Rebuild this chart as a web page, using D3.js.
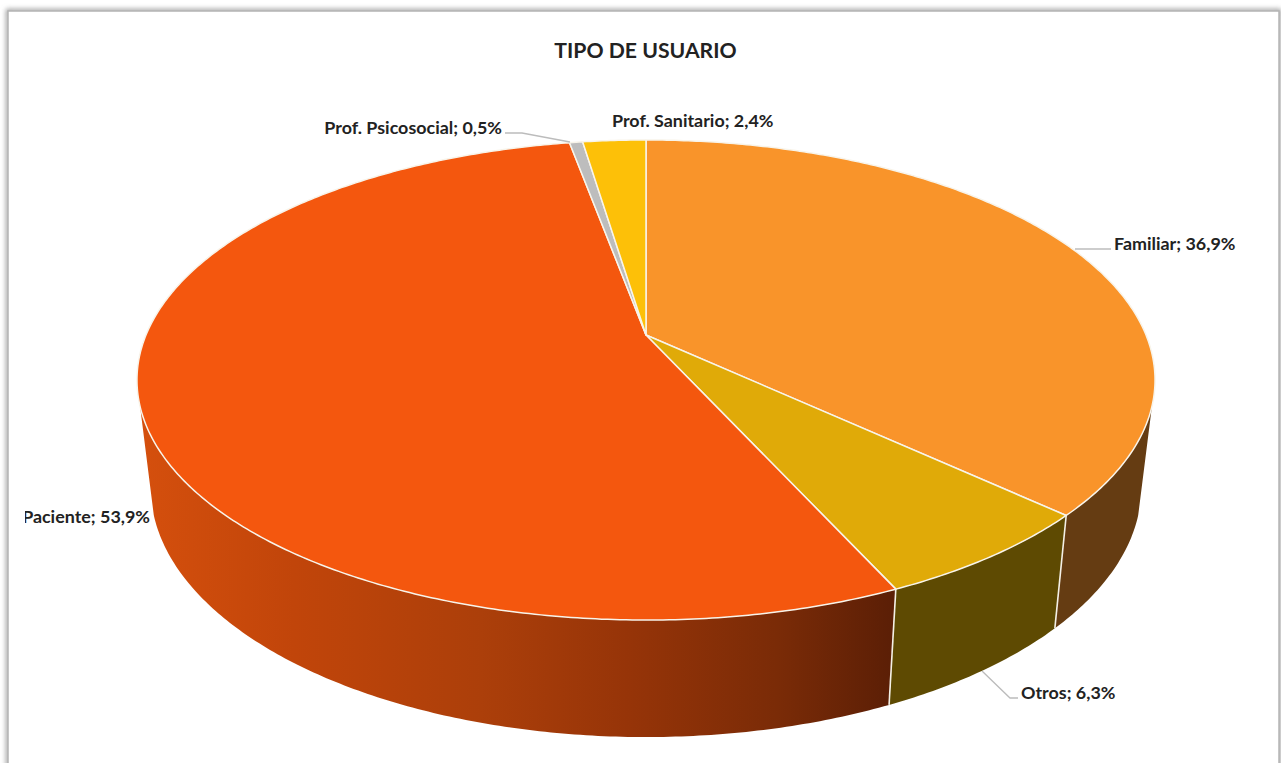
<!DOCTYPE html>
<html><head><meta charset="utf-8">
<script src="https://cdn.jsdelivr.net/npm/d3@7/dist/d3.min.js"></script>
<style>html,body{margin:0;padding:0;background:#fff;overflow:hidden}svg{display:block}text{font-family:Lato,"Noto Sans",sans-serif;font-weight:700;fill:#222}</style>
</head><body><svg id="c" width="1281" height="763"></svg>
<script>
const title = "TIPO DE USUARIO";
const categories = ["Familiar","Otros","Paciente","Prof. Psicosocial","Prof. Sanitario"];
const values = [36.9,6.3,53.9,0.5,2.4];
const valueLabels = ["36,9%","6,3%","53,9%","0,5%","2,4%"];
const topColors = ["#f9942a","#e0aa08","#f4570e","#bdbdbd","#fdc008"];
const sideColors = ["#653c12","#5e4a02","url(#pacSide)","#777","#997300"];

const svg = d3.select("#c");
const defs = svg.append("defs");
const blur = defs.append("filter").attr("id","sh").attr("x","-5%").attr("y","-5%").attr("width","110%").attr("height","110%");
blur.append("feGaussianBlur").attr("stdDeviation",2.5);
const soft = defs.append("filter").attr("id","soft").attr("color-interpolation-filters","sRGB").attr("x","-5%").attr("y","-5%").attr("width","110%").attr("height","110%");
soft.append("feGaussianBlur").attr("stdDeviation",0.35);
const grad = defs.append("linearGradient").attr("id","pacSide").attr("gradientUnits","userSpaceOnUse").attr("x1",145).attr("x2",890).attr("y1",0).attr("y2",0);
[[0,"#d44f0d"],[0.2,"#c1450a"],[0.45,"#ac3f0a"],[0.65,"#963408"],[0.85,"#7a2b07"],[1,"#5c1f06"]].forEach(s=>grad.append("stop").attr("offset",s[0]).attr("stop-color",s[1]));
defs.append("clipPath").attr("id","frameClip").append("rect").attr("x",25).attr("y",0).attr("width",1256).attr("height",763);

// frame
svg.append("rect").attr("x",8).attr("y",11).attr("width",1271).attr("height",800).attr("fill","none").attr("stroke","#999").attr("stroke-width",4).attr("filter","url(#sh)");
svg.append("rect").attr("x",8).attr("y",11).attr("width",1271).attr("height",800).attr("fill","#fff").attr("stroke","#b4b4b4").attr("stroke-width",1.5);

// perspective projection of the pie disc
const CX=646, CY=335, A=500, B=231.6, K=0.1875;
const topPt = a => { const x=Math.sin(a), y=-Math.cos(a), w=1-K*y; return [CX+A*x/w, CY+B*y/w]; };
const botPt = a => { const p=topPt(a); return [CX+0.973*(p[0]-CX), 737-(620-p[1])*1.04]; };
const arcs = d3.pie().sort(null).value(d=>d)(values);
const line = d3.line();
const samples = (a0,a1,f)=>{ const n=Math.max(2,Math.ceil((a1-a0)/0.01)); return d3.range(n+1).map(i=>f(a0+(a1-a0)*i/n)); };
const visL = 107*Math.PI/180, visR = 253*Math.PI/180;

// sides
const g = svg.append("g").attr("filter","url(#soft)");
arcs.forEach((d,i)=>{
  const a0=Math.max(d.startAngle,visL), a1=Math.min(d.endAngle,visR);
  if(a1<=a0) return;
  const pts = samples(a0,a1,topPt).concat(samples(a0,a1,botPt).reverse());
  g.append("path").attr("d",line(pts)+"Z").attr("fill",sideColors[i]);
});
arcs.forEach(d=>{
  const a=d.endAngle;
  if(a>visL && a<visR) g.append("path").attr("d",line([topPt(a),botPt(a)])).attr("stroke","#f4f0e6").attr("stroke-width",1.6).attr("fill","none");
});
// top faces
arcs.forEach((d,i)=>{
  const pts=[[CX,CY]].concat(samples(d.startAngle,d.endAngle,topPt));
  g.append("path").attr("d",line(pts)+"Z").attr("fill",topColors[i]).attr("stroke","#f8f4ea").attr("stroke-width",1.5).attr("stroke-linejoin","round");
});

// leaders
const leaders=[[[1075,249],[1111,249]],[[982,671],[1010,698],[1018,698]],[[505,133],[522,133],[570,142]]];
leaders.forEach(p=>svg.append("path").attr("d",line(p)).attr("fill","none").attr("stroke","#bcbcbc").attr("stroke-width",1.3));

// text
svg.append("text").attr("x",645.5).attr("y",57.5).attr("text-anchor","middle").attr("font-size",21.2).text(title);
const labelPos=[[1114,250,"start"],[1021,698.5,"start"],[150,522.5,"end"],[502,133.5,"end"],[612,126.5,"start"]];
const labelLayer=svg.append("g").attr("clip-path","url(#frameClip)");
categories.forEach((c,i)=>{
  labelLayer.append("text").attr("x",labelPos[i][0]).attr("y",labelPos[i][1]).attr("text-anchor",labelPos[i][2]).attr("font-size",17.9).text(c+"; "+valueLabels[i]);
});
</script></body></html>
